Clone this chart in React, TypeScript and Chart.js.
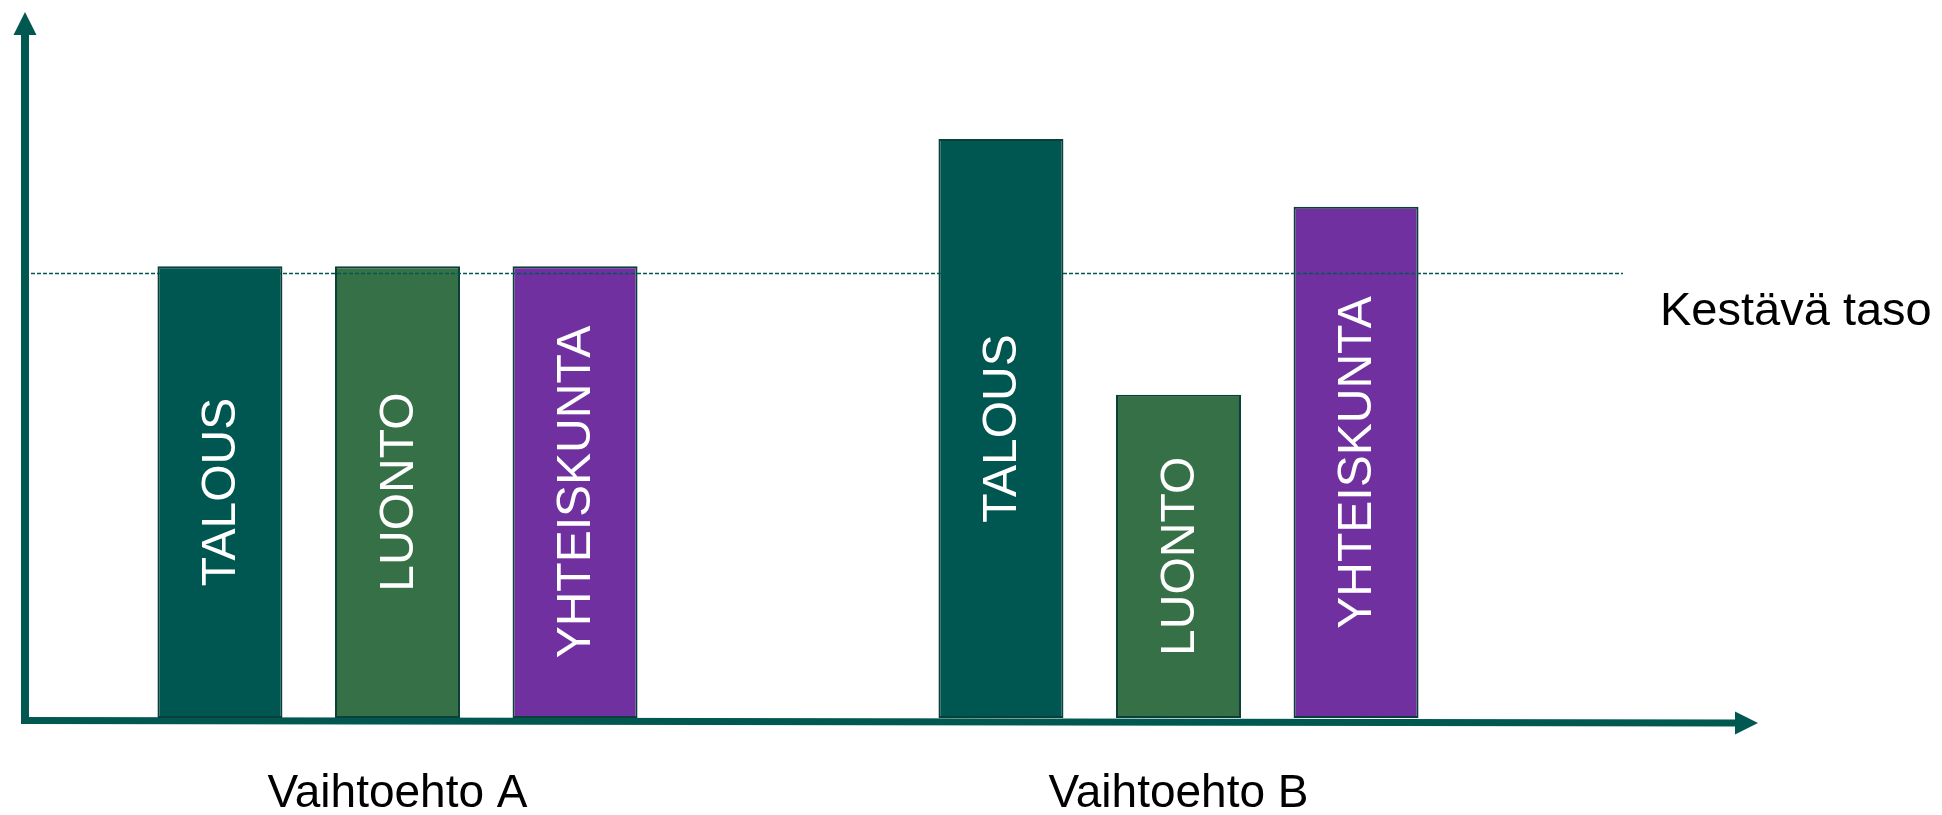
import React, { useEffect, useRef } from "react";
import { Chart, registerables } from "chart.js";

Chart.register(...registerables);

// Alternatives compared on the horizontal axis
const categories = ["Vaihtoehto A", "Vaihtoehto B"];

// Sustainability dimensions, one bar series each
const seriesNames = ["TALOUS", "LUONTO", "YHTEISKUNTA"];
const talousValues = [64, 82];
const luontoValues = [64, 45.8];
const yhteiskuntaValues = [64, 72.4];

// Reference level shown as a dashed line
const sustainableLevel = 63;
const sustainableLabel = "Kestävä taso";

const FONT = '"Liberation Sans", Arial, sans-serif';
const AXIS_COLOR = "#005850";
const BORDER_COLOR = "#0a3f3a";

const decorations = {
  id: "decorations",
  beforeDatasetsDraw(chart: any) {
    const ctx = chart.ctx as CanvasRenderingContext2D;
    ctx.save();
    ctx.fillStyle = AXIS_COLOR;

    // vertical axis with arrow head
    ctx.fillRect(21, 33, 8, 691);
    ctx.beginPath();
    ctx.moveTo(25, 12);
    ctx.lineTo(36.5, 35);
    ctx.lineTo(13.5, 35);
    ctx.closePath();
    ctx.fill();

    // horizontal axis with arrow head
    ctx.beginPath();
    ctx.moveTo(21, 717);
    ctx.lineTo(1737, 719.5);
    ctx.lineTo(1737, 726.5);
    ctx.lineTo(21, 724);
    ctx.closePath();
    ctx.fill();
    ctx.beginPath();
    ctx.moveTo(1758, 723);
    ctx.lineTo(1735, 711.5);
    ctx.lineTo(1735, 734.5);
    ctx.closePath();
    ctx.fill();
    ctx.restore();
  },
  afterDatasetsDraw(chart: any) {
    const ctx = chart.ctx as CanvasRenderingContext2D;
    const yScale = chart.scales.y;
    const xScale = chart.scales.x;
    ctx.save();

    // dashed sustainability level
    const levelY = Math.round(yScale.getPixelForValue(sustainableLevel)) + 0.5;
    ctx.strokeStyle = AXIS_COLOR;
    ctx.lineWidth = 1.5;
    ctx.setLineDash([4, 2]);
    ctx.beginPath();
    ctx.moveTo(31, levelY);
    ctx.lineTo(1623, levelY);
    ctx.stroke();
    ctx.setLineDash([]);

    ctx.fillStyle = "#000000";
    ctx.font = `47px ${FONT}`;
    ctx.textAlign = "left";
    ctx.textBaseline = "alphabetic";
    ctx.fillText(sustainableLabel, 1660, levelY + 51);

    // rotated series names inside each bar
    ctx.fillStyle = "#ffffff";
    ctx.font = `48px ${FONT}`;
    ctx.textAlign = "center";
    ctx.textBaseline = "middle";
    chart.data.datasets.forEach((ds: any, di: number) => {
      const meta = chart.getDatasetMeta(di);
      meta.data.forEach((bar: any) => {
        const props = bar.getProps(["x", "y", "base"], true);
        const cy = (props.y + props.base) / 2;
        ctx.save();
        ctx.translate(props.x, cy);
        ctx.rotate(-Math.PI / 2);
        ctx.fillText(ds.label, 0, 2);
        ctx.restore();
      });
    });

    // category names under the axis
    ctx.fillStyle = "#000000";
    ctx.font = `46px ${FONT}`;
    ctx.textAlign = "center";
    ctx.textBaseline = "alphabetic";
    categories.forEach((c, i) => {
      ctx.fillText(c, xScale.getPixelForValue(i), 807);
    });
    ctx.restore();
  },
};

export default function App() {
  const canvasRef = useRef<HTMLCanvasElement | null>(null);

  useEffect(() => {
    if (!canvasRef.current) return;
    const seriesValues = [talousValues, luontoValues, yhteiskuntaValues];
    const fills = ["#005650", "#367047", "#7030a0"];
    const chart = new Chart(canvasRef.current, {
      type: "bar",
      data: {
        labels: categories,
        datasets: seriesNames.map((name, i) => ({
          label: name,
          data: seriesValues[i],
          backgroundColor: fills[i],
          borderColor: BORDER_COLOR,
          borderWidth: 2,
          borderSkipped: false,
          categoryPercentage: 0.682,
          barPercentage: 0.704,
        })),
      },
      options: {
        responsive: false,
        animation: false,
        devicePixelRatio: 1,
        layout: { padding: { left: 7, right: 373, top: 12, bottom: 97 } },
        scales: {
          x: { display: false },
          y: { display: false, min: 0, max: 100 },
        },
        plugins: {
          legend: { display: false },
          tooltip: { enabled: false },
        },
      },
      plugins: [decorations],
    });
    return () => chart.destroy();
  }, []);

  return (
    <div style={{ position: "fixed", left: 0, top: 0, width: 1942, height: 815, background: "#ffffff" }}>
      <canvas ref={canvasRef} width={1942} height={815} style={{ display: "block" }} />
    </div>
  );
}
